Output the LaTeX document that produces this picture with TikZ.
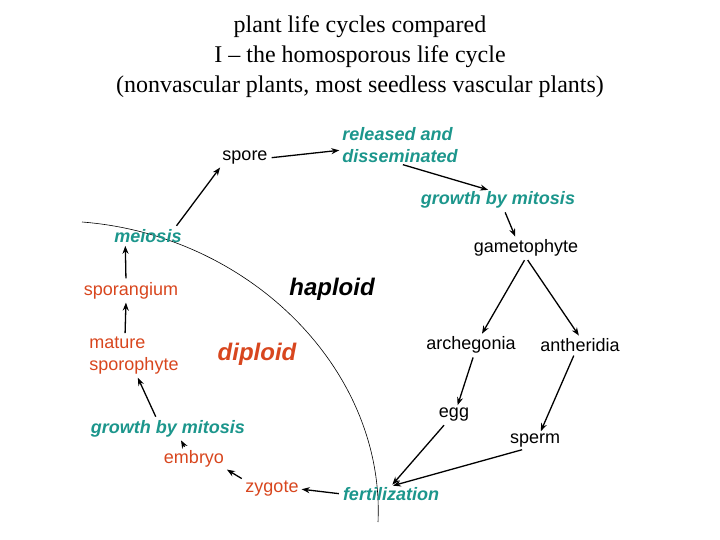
\documentclass[tikz,border=0pt]{standalone}
\usepackage{fontspec}
\setmainfont{Liberation Serif}
\newfontfamily\sans{Liberation Sans}
\usetikzlibrary{arrows.meta}
\definecolor{teal1}{HTML}{1C968C}
\definecolor{red1}{HTML}{D8461E}
\begin{document}
\begin{tikzpicture}[x=1pt,y=-1pt,
  lab/.style={font=\sans\fontsize{18}{22}\selectfont,inner sep=1pt,align=left},
  tl/.style={lab,text=teal1,font=\sans\bfseries\itshape\fontsize{18}{22}\selectfont},
  rl/.style={lab,text=red1},
  ar/.style={-{Stealth[length=8pt,width=6pt]},line width=1.3pt,shorten >=2pt,shorten <=3pt}]
\useasboundingbox (0,0) rectangle (720,540);
\node[font=\fontsize{24}{30}\selectfont,align=center] (title) at (360,57) {plant life cycles compared\\I -- the homosporous life cycle\\(nonvascular plants, most seedless vascular plants)};
\draw[line width=0.6pt] (82,222) .. controls (250,235) and (385,370) .. (378,522);
\node[lab] (spore) at (245,158) {spore};
\node[tl] (rel) at (400,145) {released and\\disseminated};
\node[tl] (gm1) at (498,200) {growth by mitosis};
\node[tl] (mei) at (148,236) {meiosis};
\node[lab] (gam) at (526,248) {gametophyte};
\node[lab,font=\sans\bfseries\itshape\fontsize{24}{28}\selectfont] (hap) at (332,289) {haploid};
\node[rl] (spg) at (131,291) {sporangium};
\node[rl] (mat) at (134,356) {mature\\sporophyte};
\node[rl,font=\sans\bfseries\itshape\fontsize{24}{28}\selectfont] (dip) at (257,354) {diploid};
\node[lab] (arc) at (471,345) {archegonia};
\node[lab] (ant) at (580,345) {antheridia};
\node[lab] (egg) at (454,415) {egg};
\node[lab] (spm) at (535,441) {sperm};
\node[tl] (gm2) at (168,429) {growth by mitosis};
\node[rl] (emb) at (194,459) {embryo};
\node[rl] (zyg) at (272,489) {zygote};
\node[tl] (fer) at (391,494) {fertilization};
\draw[ar] (spore.east) -- (rel.west|-spore.north);
\draw[ar] (rel.south) -- ([xshift=-8pt]gm1.north);
\draw[ar] ([xshift=6pt]gm1.south) -- ([xshift=-10pt]gam.north);
\draw[ar] ([xshift=-8pt]mei.north east) -- (spore.south west);
\draw[ar] ([xshift=-5pt]spg.north) -- ([xshift=12pt]mei.south west);
\draw[ar] ([xshift=-9pt]mat.north) -- ([xshift=-5pt]spg.south);
\draw[ar] ([xshift=-11pt]gm2.north) -- ([xshift=3pt]mat.south);
\draw[ar] ([xshift=-8pt]emb.north) -- ([xshift=12pt]gm2.south);
\draw[ar] (zyg.north west) -- (emb.south east);
\draw[ar] (fer.west) -- (zyg.east);
\draw[ar] (gam.south) -- ([xshift=10pt]arc.north);
\draw[ar] (gam.south) -- (ant.north);
\draw[ar] ([xshift=3pt]arc.south) -- ([xshift=3pt]egg.north);
\draw[ar] ([xshift=-5pt]ant.south) -- ([xshift=5pt]spm.north);
\draw[ar] ([xshift=-8pt]egg.south) -- (fer.north);
\draw[ar] ([xshift=-10pt]spm.south) -- (fer.north);
\end{tikzpicture}
\end{document}
